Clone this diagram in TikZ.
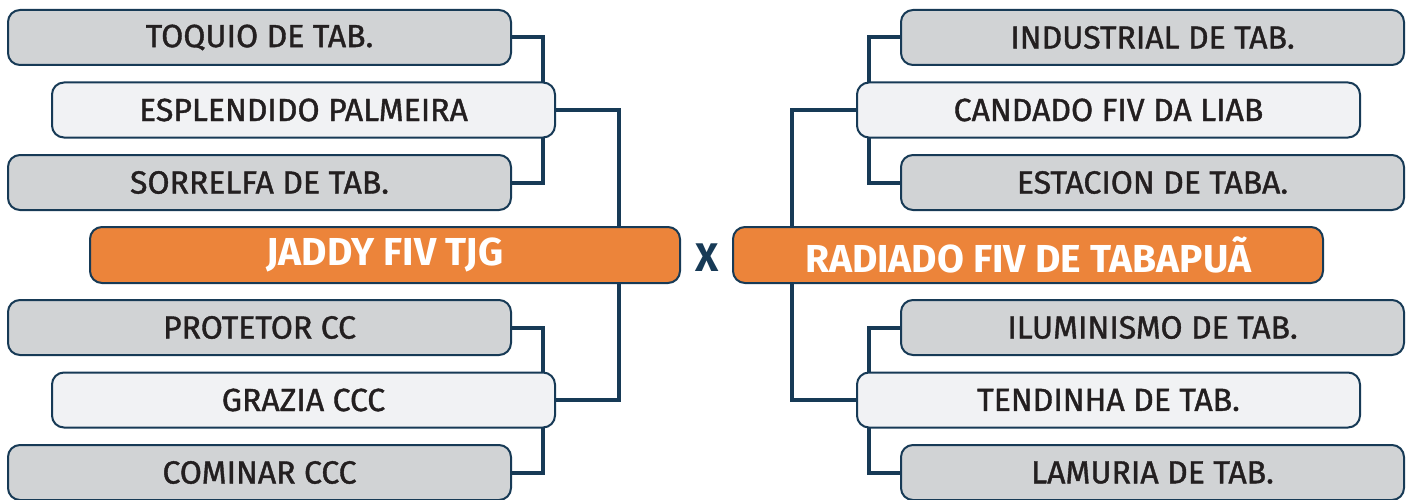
\documentclass[tikz,border=0pt]{standalone}
\usepackage{fontspec}
\setmainfont{Fira Sans}
\newfontfamily\teamfont{Fira Sans}[FakeBold=1.2]
\usepackage{tikz}
\usetikzlibrary{backgrounds}

\definecolor{navy}{HTML}{173A56}
\definecolor{boxgray}{HTML}{D1D3D5}
\definecolor{boxlight}{HTML}{F1F2F4}
\definecolor{teamorange}{HTML}{EC843A}
\definecolor{ink}{HTML}{231F20}

\tikzset{
	team/.style={draw=navy, line width=2pt, rounded corners=12pt, fill=boxgray,
		minimum width=503pt, minimum height=55pt, inner sep=0pt, text=ink,
		font=\teamfont\fontsize{32}{32}\selectfont},
	semi/.style={team, fill=boxlight},
	final/.style={team, fill=teamorange, minimum width=590pt, minimum height=56pt,
		text=white, font=\fontsize{39}{39}\selectfont\bfseries},
	link/.style={draw=navy, line width=4pt}
}

\begin{document}
\begin{tikzpicture}[x=1pt,y=-1pt]
	\useasboundingbox (0,0) rectangle (1412,500);

	% left side
	\node [team] (toquio) at (259.5,37.5) {TOQUIO DE TAB.};
	\node [semi] (esplendido) at (303.5,110) {ESPLENDIDO PALMEIRA};
	\node [team] (sorrelfa) at (259.5,182.5) {SORRELFA DE TAB.};
	\node [final] (jaddy) at (385,255) {JADDY FIV TJG};
	\node [team] (protetor) at (259.5,327.5) {PROTETOR CC};
	\node [semi] (grazia) at (303.5,400) {GRAZIA CCC};
	\node [team] (cominar) at (259.5,472.5) {COMINAR CCC};

	\node [text=navy, font=\fontsize{40}{40}\selectfont\bfseries] (versus) at (707,258) {X};

	% right side
	\node [team] (industrial) at (1152.5,37.5) {INDUSTRIAL DE TAB.};
	\node [semi] (candado) at (1108.5,110) {CANDADO FIV DA LIAB};
	\node [team] (estacion) at (1152.5,182.5) {ESTACION DE TABA.};
	\node [final] (radiado) at (1028,255) {RADIADO FIV DE TABAPUÃ};
	\node [team] (iluminismo) at (1152.5,327.5) {ILUMINISMO DE TAB.};
	\node [semi] (tendinha) at (1108.5,400) {TENDINHA DE TAB.};
	\node [team] (lamuria) at (1152.5,472.5) {LAMURIA DE TAB.};

	\begin{scope}[on background layer]
		\draw [link] (toquio.east) -- ++(31,0) |- (sorrelfa.east);
		\draw [link] (protetor.east) -- ++(31,0) |- (cominar.east);
		\draw [link] (esplendido.east) -- ++(63,0) |- (grazia.east);
		\draw [link] (industrial.west) -- ++(-31,0) |- (estacion.west);
		\draw [link] (iluminismo.west) -- ++(-31,0) |- (lamuria.west);
		\draw [link] (candado.west) -- ++(-64,0) |- (tendinha.west);
	\end{scope}
\end{tikzpicture}
\end{document}
